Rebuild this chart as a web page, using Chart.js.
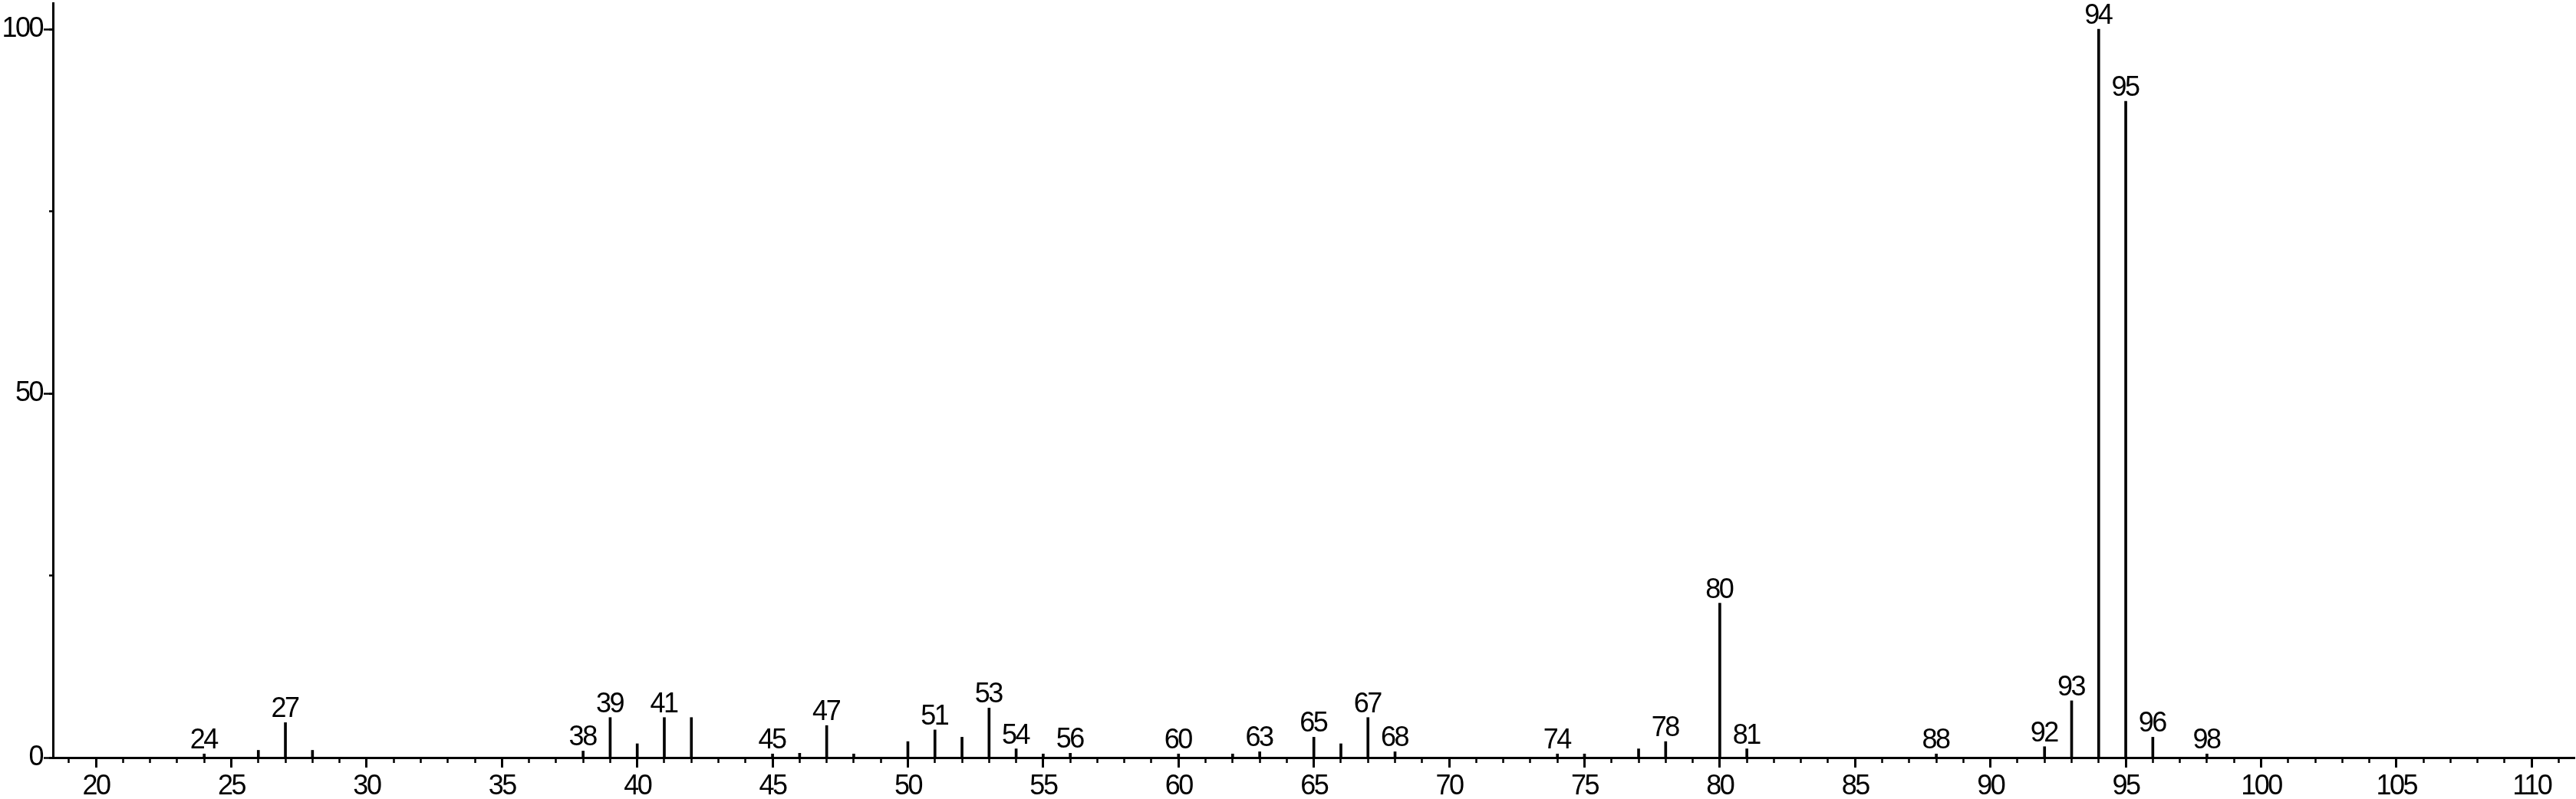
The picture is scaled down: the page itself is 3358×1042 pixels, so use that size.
<!DOCTYPE html>
<html>
<head>
<meta charset="utf-8">
<title>Mass spectrum</title>
<script src="https://cdn.jsdelivr.net/npm/chart.js@4.4.1/dist/chart.umd.min.js"></script>
<style>
  html, body { margin:0; padding:0; background:#fff; }
  #wrap { width:3358px; height:1042px; position:relative; }
</style>
</head>
<body>
<div id="wrap"><canvas id="spectrum"></canvas></div>
<script>
// m/z of each peak and its relative intensity (%)
const peakMz =        [24, 26, 27, 28, 38, 39, 40, 41, 42, 45, 46, 47, 48, 50, 51, 52, 53, 54, 55, 56,
                       60, 62, 63, 65, 66, 67, 68, 74, 75, 77, 78, 80, 81, 88, 92, 93, 94, 95, 96, 98];
const peakIntensity = [0.5, 1.0, 4.8, 1.0, 0.9, 5.5, 1.9, 5.5, 5.5, 0.5, 0.6, 4.4, 0.5, 2.2, 3.8, 2.8, 6.8, 1.2, 0.5, 0.6,
                       0.5, 0.5, 0.8, 2.8, 1.9, 5.5, 0.8, 0.5, 0.5, 1.2, 2.2, 21.2, 1.2, 0.5, 1.5, 7.8, 100, 90.1, 2.8, 0.5];
// peaks that carry a m/z label
const labeledMz = [24, 27, 38, 39, 41, 45, 47, 51, 53, 54, 56, 60, 63, 65, 67, 68, 74, 78, 80, 81, 88, 92, 93, 94, 95, 96, 98];

// axis ranges
const xMin = 18.41, xMax = 111.58;
const yMin = 0, yMax = 103.58;

const FONT = "'Liberation Sans', Arial, sans-serif";
Chart.defaults.font.family = FONT;
Chart.defaults.font.size = 36;
Chart.defaults.color = '#000';

const points = peakMz.map((m, i) => ({ x: m, y: peakIntensity[i] }));

// the original lettering is a bit narrower than Arial
const narrowText = {
  id: 'narrowText',
  beforeLayout(chart) { chart.ctx.letterSpacing = '-2.5px'; },
  beforeDraw(chart) { chart.ctx.letterSpacing = '-2.5px'; }
};

// write the m/z above labelled peaks
const peakLabels = {
  id: 'peakLabels',
  afterDatasetsDraw(chart) {
    const ctx = chart.ctx;
    const meta = chart.getDatasetMeta(0);
    ctx.save();
    ctx.font = '36px ' + FONT;
    ctx.fillStyle = '#000';
    ctx.textAlign = 'center';
    ctx.textBaseline = 'alphabetic';
    meta.data.forEach((bar, i) => {
      if (labeledMz.indexOf(peakMz[i]) < 0) return;
      ctx.fillText(String(peakMz[i]), bar.x - 1, bar.y - 7);
    });
    ctx.restore();
  }
};

function noPad(s) { s.paddingTop = 0; s.paddingBottom = 0; s.paddingLeft = 0; s.paddingRight = 0; }

new Chart(document.getElementById('spectrum'), {
  type: 'bar',
  data: {
    datasets: [{
      data: points,
      backgroundColor: '#000',
      borderWidth: 0,
      barThickness: 3
    }]
  },
  options: {
    responsive: true,
    maintainAspectRatio: false,
    animation: false,
    events: [],
    layout: { padding: { top: 4, right: 2, left: 0, bottom: 0 } },
    plugins: { legend: { display: false }, tooltip: { enabled: false } },
    scales: {
      x: {
        type: 'linear',
        min: xMin, max: xMax,
        bounds: 'ticks',
        offset: false,
        position: 'bottom',
        border: { display: true, color: '#000', width: 3 },
        grid: { offset: false, drawOnChartArea: false, tickLength: 13, tickWidth: 3, tickColor: '#000' },
        ticks: { stepSize: 5, includeBounds: false, autoSkip: false, maxRotation: 0, padding: 3,
                 callback: v => String(v) },
        afterFit: s => { s.height = 54; noPad(s); }
      },
      x2: {
        type: 'linear',
        min: xMin, max: xMax,
        bounds: 'ticks',
        offset: false,
        position: { y: 0 },
        border: { display: false },
        grid: { offset: false, drawOnChartArea: false, tickLength: 7, tickWidth: 2.5, tickColor: '#000' },
        ticks: { display: false, stepSize: 1, includeBounds: false, autoSkip: false },
        afterFit: noPad
      },
      y: {
        type: 'linear',
        min: yMin, max: yMax,
        bounds: 'ticks',
        position: 'left',
        border: { display: true, color: '#000', width: 3 },
        grid: { drawOnChartArea: false, tickLength: 12, tickWidth: 2.5, tickColor: '#000' },
        ticks: { stepSize: 50, includeBounds: false, padding: 2 },
        afterFit: s => { s.width = 69; noPad(s); }
      },
      y2: {
        type: 'linear',
        min: yMin, max: yMax,
        bounds: 'ticks',
        position: { x: xMin },
        border: { display: false },
        grid: { drawOnChartArea: false, tickLength: 5, tickWidth: 2.5, tickColor: '#000' },
        ticks: { display: false, stepSize: 25, includeBounds: false },
        afterFit: noPad
      }
    }
  },
  plugins: [narrowText, peakLabels]
});
</script>
</body>
</html>
